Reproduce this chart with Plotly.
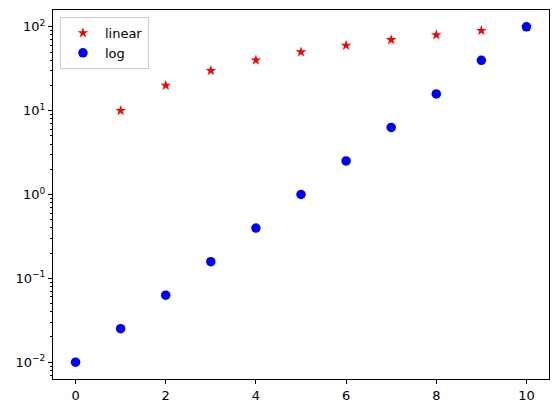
import plotly.graph_objects as go

x_vals = [0, 1, 2, 3, 4, 5, 6, 7, 8, 9, 10]
linear_vals = [0, 10, 20, 30, 40, 50, 60, 70, 80, 90, 100]
log_vals = [0.01, 0.0251, 0.0631, 0.158, 0.398, 1.0, 2.51, 6.31, 15.8, 39.8, 100.0]

y_tickvals = [0.01, 0.1, 1, 10, 100]
y_ticktext = ["10<sup>\u22122</sup>", "10<sup>\u22121</sup>", "10<sup>0</sup>", "10<sup>1</sup>", "10<sup>2</sup>"]
x_tickvals = [0, 2, 4, 6, 8, 10]

minor_vals = [m * 10 ** e for e in range(-3, 3) for m in range(2, 10)]

fig = go.Figure()
# linear series: value 0 cannot be shown on log axis
fig.add_trace(go.Scatter(
    x=x_vals, y=[v if v > 0 else None for v in linear_vals], mode="markers", name="linear",
    marker=dict(symbol="star", color="red", size=8, line=dict(width=0)),
))
fig.add_trace(go.Scatter(
    x=x_vals, y=log_vals, mode="markers", name="log",
    marker=dict(symbol="circle", color="blue", size=9.5, line=dict(width=0)),
))

axis_common = dict(
    showline=True, linecolor="black", linewidth=1, mirror=True,
    ticks="outside", ticklen=4, tickcolor="black", tickwidth=1,
    showgrid=False, zeroline=False,
    tickfont=dict(family="DejaVu Sans", size=13, color="black"),
)

fig.update_xaxes(range=[-0.5, 10.5], tickvals=x_tickvals, **axis_common)
fig.update_yaxes(
    type="log", range=[-2.2, 2.2], tickvals=y_tickvals, ticktext=y_ticktext,
    minor=dict(tickvals=minor_vals, ticks="outside", ticklen=2, tickcolor="black", showgrid=False),
    **axis_common,
)

fig.update_layout(
    width=558, height=413,
    margin=dict(l=53, r=9, t=10, b=34),
    plot_bgcolor="white", paper_bgcolor="white",
    font=dict(family="DejaVu Sans", size=13, color="black"),
    showlegend=True,
    legend=dict(
        x=0.014, y=0.981, xanchor="left", yanchor="top",
        bgcolor="rgba(255,255,255,0.8)", bordercolor="#cccccc", borderwidth=1,
        font=dict(family="DejaVu Sans", size=13, color="black"),
        tracegroupgap=0, itemwidth=34,
    ),
)

fig.write_html("out.html")
